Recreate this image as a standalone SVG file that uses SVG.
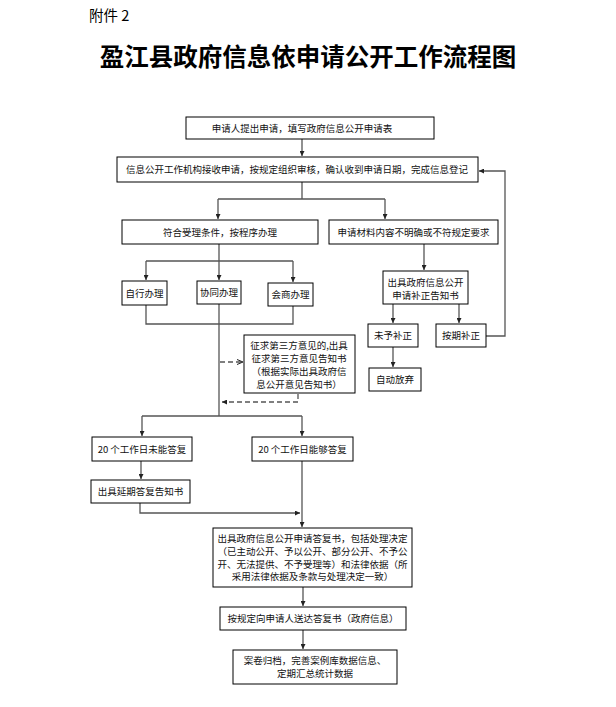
<svg xmlns="http://www.w3.org/2000/svg" width="616" height="707" viewBox="0 0 616 707">
<defs>
<style>
.box{fill:#fff;stroke:#000;stroke-width:1}
.t{font-family:"Noto Sans CJK SC","Liberation Sans",sans-serif;font-size:9.5px;fill:#111;text-anchor:middle}
.ln{fill:none;stroke:#555;stroke-width:1.3}
.dl{fill:none;stroke:#555;stroke-width:1.3;stroke-dasharray:5,3}
</style>
<marker id="ar" viewBox="0 0 6 6" refX="6" refY="3" markerWidth="5" markerHeight="5" markerUnits="userSpaceOnUse" orient="auto">
<path d="M0,0 L6,3 L0,6 z" fill="#222"/>
</marker>
<marker id="oa" viewBox="0 0 6 6" refX="6" refY="3" markerWidth="6" markerHeight="6" markerUnits="userSpaceOnUse" orient="auto">
<path d="M0,0.5 L6,3 L0,5.5" fill="none" stroke="#222" stroke-width="1"/>
</marker>
</defs>
<rect width="616" height="707" fill="#fff"/>
<text x="89" y="21" style="font-family:'Noto Sans CJK SC',sans-serif;font-size:14.5px;fill:#000">附件 2</text>
<text x="308" y="66" style="font-family:'Noto Sans CJK SC',serif;font-size:24.5px;font-weight:700;fill:#000;text-anchor:middle">盈江县政府信息依申请公开工作流程图</text>

<g id="connectors">
<path class="ln" d="M302,139 V156" marker-end="url(#ar)"/>
<path class="ln" d="M302,182 V199 M218,199 H385"/>
<path class="ln" d="M218,199 V219" marker-end="url(#ar)"/>
<path class="ln" d="M385,199 V219" marker-end="url(#ar)"/>
<path class="ln" d="M219,244 V261 M146,261 H293"/>
<path class="ln" d="M146,261 V280" marker-end="url(#ar)"/>
<path class="ln" d="M219,261 V280" marker-end="url(#ar)"/>
<path class="ln" d="M293,261 V282" marker-end="url(#ar)"/>
<path class="ln" d="M146,305 V324 H293 V306"/>
<path class="ln" d="M219,303 V416"/>
<path class="dl" d="M220,362 H243" marker-end="url(#oa)"/>
<path class="dl" d="M298,394 V402 H222" marker-end="url(#ar)"/>
<path class="ln" d="M142,416 H302"/>
<path class="ln" d="M142,416 V436" marker-end="url(#ar)"/>
<path class="ln" d="M302,416 V436" marker-end="url(#ar)"/>
<path class="ln" d="M141,461 V479" marker-end="url(#ar)"/>
<path class="ln" d="M140,503 V513 H300" marker-end="url(#ar)"/>
<path class="ln" d="M302,461 V527" marker-end="url(#ar)"/>
<path class="ln" d="M303,587 V606" marker-end="url(#ar)"/>
<path class="ln" d="M303,630 V649" marker-end="url(#ar)"/>
<path class="ln" d="M424,244 V270" marker-end="url(#ar)"/>
<path class="ln" d="M393,304 V323" marker-end="url(#ar)"/>
<path class="ln" d="M459,304 V323" marker-end="url(#ar)"/>
<path class="ln" d="M393,347 V367" marker-end="url(#ar)"/>
<path class="ln" d="M486,336 H505 V171 H479" marker-end="url(#ar)"/>
</g>

<g id="n1"><rect class="box" x="186" y="117" width="248" height="22"/><text class="t" x="302" y="131.5">申请人提出申请，填写政府信息公开申请表</text></g>
<g id="n2"><rect class="box" x="117" y="157" width="361" height="25"/><text class="t" x="297" y="173">信息公开工作机构接收申请，按规定组织审核，确认收到申请日期，完成信息登记</text></g>
<g id="n3"><rect class="box" x="122" y="220" width="196" height="24"/><text class="t" x="220" y="235.5">符合受理条件，按程序办理</text></g>
<g id="n4"><rect class="box" x="329" y="220" width="169" height="24"/><text class="t" x="413.5" y="235.5">申请材料内容不明确或不符规定要求</text></g>
<g id="n5"><rect class="box" x="122" y="281" width="45" height="24"/><text class="t" x="144.5" y="296.5">自行办理</text></g>
<g id="n6"><rect class="box" x="197" y="281" width="44" height="23"/><text class="t" x="219" y="296">协同办理</text></g>
<g id="n7"><rect class="box" x="268" y="283" width="45" height="23"/><text class="t" x="290.5" y="298">会商办理</text></g>
<g id="n8"><rect class="box" x="383" y="271" width="85" height="33"/><text class="t" x="425.5" y="286">出具政府信息公开</text><text class="t" x="425.5" y="298.5">申请补正告知书</text></g>
<g id="n9"><rect class="box" x="368" y="324" width="50" height="23"/><text class="t" x="393" y="339">未予补正</text></g>
<g id="n10"><rect class="box" x="436" y="324" width="50" height="23"/><text class="t" x="461" y="339">按期补正</text></g>
<g id="n11"><rect class="box" x="369" y="368" width="52" height="23"/><text class="t" x="395" y="383">自动放弃</text></g>
<g id="n12"><rect class="box" x="244" y="335" width="111" height="58"/>
<text class="t" x="299" y="349">征求第三方意见的,出具</text>
<text class="t" x="299" y="362">征求第三方意见告知书</text>
<text class="t" x="299" y="375">（根据实际出具政府信</text>
<text class="t" x="299" y="388">息公开意见告知书）</text></g>
<g id="n13"><rect class="box" x="92" y="437" width="100" height="24"/><text class="t" x="142" y="452.5">20 个工作日未能答复</text></g>
<g id="n14"><rect class="box" x="252" y="437" width="101" height="24"/><text class="t" x="302.5" y="452.5">20 个工作日能够答复</text></g>
<g id="n15"><rect class="box" x="91" y="480" width="99" height="23"/><text class="t" x="140.5" y="495">出具延期答复告知书</text></g>
<g id="n16"><rect class="box" x="213" y="528" width="199" height="59"/>
<text class="t" x="312.5" y="542">出具政府信息公开申请答复书，包括处理决定</text>
<text class="t" x="312.5" y="555">（已主动公开、予以公开、部分公开、不予公</text>
<text class="t" x="312.5" y="567.5">开、无法提供、不予受理等）和法律依据（所</text>
<text class="t" x="312.5" y="580">采用法律依据及条款与处理决定一致）</text></g>
<g id="n17"><rect class="box" x="220" y="607" width="186" height="23"/><text class="t" x="313" y="622">按规定向申请人送达答复书（政府信息）</text></g>
<g id="n18"><rect class="box" x="233" y="650" width="164" height="34"/><text class="t" x="315" y="664">案卷归档，完善案例库数据信息、</text><text class="t" x="315" y="677">定期汇总统计数据</text></g>
</svg>
